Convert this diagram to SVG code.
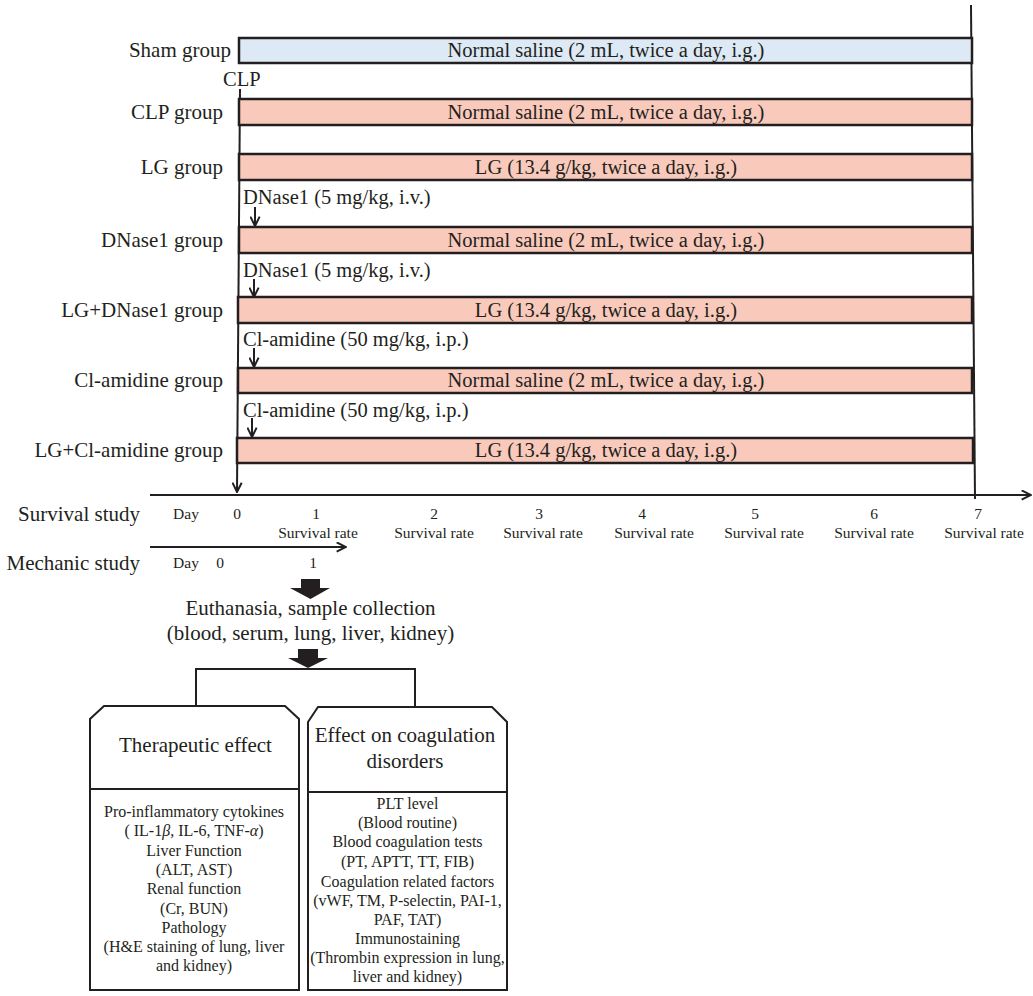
<svg xmlns="http://www.w3.org/2000/svg" width="1033" height="996" viewBox="0 0 1033 996">
<style>
text{font-family:"Liberation Serif","Times New Roman",serif;fill:#231f20}
.lbl{font-size:21px;text-anchor:end}
.bt{font-size:20.5px;text-anchor:middle}
.ann{font-size:20.5px}
.sm{font-size:15.5px;text-anchor:middle}
.body{font-size:16px;text-anchor:middle}
.hd{font-size:21px;text-anchor:middle}
.ctr{font-size:21px;text-anchor:middle}
.bar{stroke:#231f20;stroke-width:2.5}
.blue{fill:#dde9f5}
.pink{fill:#f9cabb}
.ln{stroke:#231f20;stroke-width:2;fill:none}
.bx{stroke:#231f20;stroke-width:2;fill:#fff}
</style>
<defs>
<marker id="chev" viewBox="0 0 10 10" refX="9.5" refY="5" markerWidth="11" markerHeight="11" markerUnits="userSpaceOnUse" orient="auto">
<path d="M1,0.8 L9.5,5 L1,9.2" fill="none" stroke="#231f20" stroke-width="1.8"/>
</marker>
</defs>

<g id="connectors">
<line class="ln" x1="240" y1="89" x2="237" y2="492" marker-end="url(#chev)"/>
<line class="ln" x1="971" y1="5" x2="975" y2="499"/>
<line class="ln" x1="150" y1="495" x2="1031" y2="495" marker-end="url(#chev)"/>
<line class="ln" x1="150" y1="547" x2="346" y2="547" marker-end="url(#chev)"/>
<line class="ln" x1="255" y1="207" x2="255" y2="226" marker-end="url(#chev)"/>
<line class="ln" x1="254" y1="279" x2="254" y2="297" marker-end="url(#chev)"/>
<line class="ln" x1="254" y1="348" x2="254" y2="367" marker-end="url(#chev)"/>
<line class="ln" x1="252" y1="418" x2="252" y2="437" marker-end="url(#chev)"/>
<polygon points="301,579 320,579 320,588 330,588 310.5,599 290,588 301,588" fill="#231f20"/>
<polygon points="298,649 318,649 318,658 328,658 308,668 288,658 298,658" fill="#231f20"/>
<polyline class="ln" points="196,706 196,669 415,669 415,708"/>
</g>

<g id="sham">
<text class="lbl" x="231" y="57">Sham group</text>
<rect class="bar blue" x="239" y="38" width="733" height="25"/>
<text class="bt" x="606" y="57">Normal saline (2 mL, twice a day, i.g.)</text>
</g>
<g id="clp-label"><text class="ann" x="223" y="86">CLP</text></g>
<g id="clp">
<text class="lbl" x="223" y="119">CLP group</text>
<rect class="bar pink" x="239" y="99" width="733" height="26"/>
<text class="bt" x="606" y="119">Normal saline (2 mL, twice a day, i.g.)</text>
</g>
<g id="lg">
<text class="lbl" x="223" y="174">LG group</text>
<rect class="bar pink" x="239" y="154" width="733" height="26"/>
<text class="bt" x="606" y="174">LG (13.4 g/kg, twice a day, i.g.)</text>
</g>
<g id="dnase1">
<text class="ann" x="243" y="204">DNase1 (5 mg/kg, i.v.)</text>
<text class="lbl" x="223" y="247">DNase1 group</text>
<rect class="bar pink" x="239" y="227" width="733" height="26"/>
<text class="bt" x="606" y="247">Normal saline (2 mL, twice a day, i.g.)</text>
</g>
<g id="lg-dnase1">
<text class="ann" x="243" y="277">DNase1 (5 mg/kg, i.v.)</text>
<text class="lbl" x="223" y="317">LG+DNase1 group</text>
<rect class="bar pink" x="238" y="297" width="734" height="26"/>
<text class="bt" x="606" y="317">LG (13.4 g/kg, twice a day, i.g.)</text>
</g>
<g id="cl-amidine">
<text class="ann" x="243" y="346">Cl-amidine (50 mg/kg, i.p.)</text>
<text class="lbl" x="223" y="387">Cl-amidine group</text>
<rect class="bar pink" x="238" y="368" width="734" height="25"/>
<text class="bt" x="606" y="387">Normal saline (2 mL, twice a day, i.g.)</text>
</g>
<g id="lg-cl-amidine">
<text class="ann" x="243" y="417">Cl-amidine (50 mg/kg, i.p.)</text>
<text class="lbl" x="223" y="457">LG+Cl-amidine group</text>
<rect class="bar pink" x="237" y="438" width="736" height="25"/>
<text class="bt" x="606" y="457">LG (13.4 g/kg, twice a day, i.g.)</text>
</g>

<g id="survival-axis">
<text class="lbl" x="140" y="521">Survival study</text>
<text class="sm" x="186" y="519">Day</text>
<text class="sm" x="237" y="519">0</text>
<text class="sm" x="316" y="519">1</text>
<text class="sm" x="434" y="519">2</text>
<text class="sm" x="539" y="519">3</text>
<text class="sm" x="642" y="519">4</text>
<text class="sm" x="755" y="519">5</text>
<text class="sm" x="874" y="519">6</text>
<text class="sm" x="978" y="519">7</text>
<text class="sm" x="318" y="538">Survival rate</text>
<text class="sm" x="434" y="538">Survival rate</text>
<text class="sm" x="543" y="538">Survival rate</text>
<text class="sm" x="654" y="538">Survival rate</text>
<text class="sm" x="764" y="538">Survival rate</text>
<text class="sm" x="874" y="538">Survival rate</text>
<text class="sm" x="984" y="538">Survival rate</text>
</g>
<g id="mechanic-axis">
<text class="lbl" x="140" y="570">Mechanic study</text>
<text class="sm" x="186" y="568">Day</text>
<text class="sm" x="220" y="568">0</text>
<text class="sm" x="313" y="568">1</text>
</g>

<g id="euthanasia">
<text class="ctr" x="310.5" y="615">Euthanasia, sample collection</text>
<text class="ctr" x="310.5" y="640">(blood, serum, lung, liver, kidney)</text>
</g>

<g id="therapeutic">
<polygon class="bx" points="104,706 285,706 299,719 299,990 90,990 90,719"/>
<line class="ln" x1="90" y1="789" x2="299" y2="789"/>
<text class="hd" x="195.5" y="752">Therapeutic effect</text>
<text class="body" x="194" y="817">Pro-inflammatory cytokines</text>
<text class="body" x="194" y="836">( IL-1<tspan font-style="italic">β</tspan>, IL-6, TNF-<tspan font-style="italic">α</tspan>)</text>
<text class="body" x="194" y="855.5">Liver Function</text>
<text class="body" x="194" y="875">(ALT, AST)</text>
<text class="body" x="194" y="894">Renal function</text>
<text class="body" x="194" y="914">(Cr, BUN)</text>
<text class="body" x="194" y="933">Pathology</text>
<text class="body" x="194" y="951.5">(H&amp;E staining of lung, liver</text>
<text class="body" x="194" y="971">and kidney)</text>
</g>

<g id="coagulation">
<polygon class="bx" points="318,707 492,707 507,722 507,990 308,990 308,722"/>
<line class="ln" x1="308" y1="792" x2="507" y2="792"/>
<text class="hd" x="405" y="742">Effect on coagulation</text>
<text class="hd" x="405" y="768">disorders</text>
<text class="body" x="407.5" y="809">PLT level</text>
<text class="body" x="407.5" y="828">(Blood routine)</text>
<text class="body" x="407.5" y="847">Blood coagulation tests</text>
<text class="body" x="407.5" y="867">(PT, APTT, TT, FIB)</text>
<text class="body" x="407.5" y="886.5">Coagulation related factors</text>
<text class="body" x="407.5" y="905.5">(vWF, TM, P-selectin, PAI-1,</text>
<text class="body" x="407.5" y="924.5">PAF, TAT)</text>
<text class="body" x="407.5" y="943.5">Immunostaining</text>
<text class="body" x="407.5" y="963">(Thrombin expression in lung,</text>
<text class="body" x="407.5" y="982">liver and kidney)</text>
</g>
</svg>
